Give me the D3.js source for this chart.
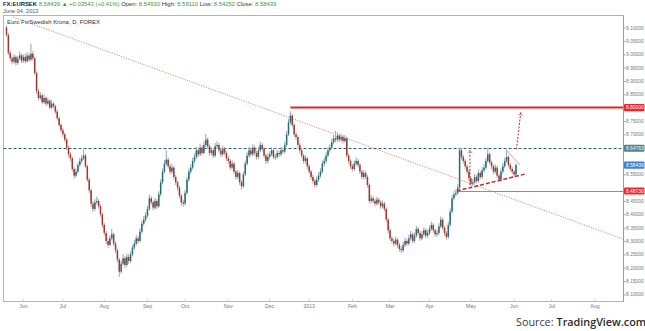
<!DOCTYPE html>
<html>
<head>
<meta charset="utf-8">
<script src="https://cdnjs.cloudflare.com/ajax/libs/d3/7.8.5/d3.min.js"></script>
<style>
  html, body { margin: 0; padding: 0; background: #fff; }
  svg { display: block; }
  text { font-family: "Liberation Sans", Arial, sans-serif; }
</style>
</head>
<body>
<svg id="chart" width="645" height="331"></svg>
<script>
// ---- EUR/SEK daily bars, 21 May 2012 – 04 Jun 2013 ----
const firstDay = "2012-05-21";
const firstOpen = 9.100;

const closes = [
  // May 2012
  9.072, 9.005, 8.985, 8.972, 8.990, 8.968, 8.984, 8.996, 8.976,
  // Jun
  8.990, 8.974, 8.995, 8.980, 9.002, 8.985, 8.930, 8.862, 8.836, 8.846, 8.820, 8.836, 8.815, 8.826, 8.800, 8.815, 8.805, 8.785, 8.760, 8.735, 8.715,
  // Jul
  8.700, 8.680, 8.650, 8.625, 8.610, 8.570, 8.545, 8.560, 8.585, 8.600, 8.610, 8.620, 8.580, 8.530, 8.490, 8.440, 8.420, 8.445, 8.450, 8.430, 8.400, 8.360,
  // Aug
  8.330, 8.300, 8.285, 8.310, 8.325, 8.290, 8.265, 8.230, 8.185, 8.215, 8.235, 8.210, 8.240, 8.225, 8.250, 8.275, 8.290, 8.310, 8.300, 8.335, 8.365, 8.380, 8.395,
  // Sep
  8.420, 8.460, 8.445, 8.425, 8.450, 8.430, 8.475, 8.520, 8.560, 8.590, 8.605, 8.580, 8.560, 8.575, 8.540, 8.520, 8.500, 8.470, 8.445, 8.440,
  // Oct
  8.480, 8.530, 8.560, 8.575, 8.600, 8.615, 8.640, 8.625, 8.650, 8.630, 8.660, 8.680, 8.655, 8.630, 8.640, 8.620, 8.655, 8.660, 8.640, 8.625, 8.645, 8.630, 8.610,
  // Nov
  8.600, 8.575, 8.590, 8.560, 8.540, 8.555, 8.520, 8.505, 8.550, 8.590, 8.620, 8.640, 8.625, 8.650, 8.630, 8.615, 8.640, 8.660, 8.645, 8.620, 8.600, 8.615,
  // Dec
  8.625, 8.640, 8.615, 8.615, 8.630, 8.625, 8.640, 8.635, 8.660, 8.700, 8.745, 8.770, 8.735, 8.700, 8.690, 8.660, 8.640, 8.620, 8.600, 8.610, 8.580,
  // Jan 2013
  8.560, 8.540, 8.525, 8.510, 8.530, 8.545, 8.560, 8.590, 8.600, 8.620, 8.640, 8.650, 8.670, 8.685, 8.680, 8.695, 8.680, 8.690, 8.675, 8.685, 8.620, 8.600, 8.580,
  // Feb
  8.570, 8.590, 8.600, 8.585, 8.560, 8.540, 8.555, 8.540, 8.510, 8.450, 8.460, 8.450, 8.440, 8.455, 8.445, 8.430, 8.440, 8.420, 8.380, 8.340,
  // Mar
  8.310, 8.300, 8.290, 8.305, 8.285, 8.270, 8.265, 8.285, 8.300, 8.290, 8.310, 8.325, 8.300, 8.320, 8.345, 8.330, 8.310, 8.325, 8.340, 8.320, 8.330,
  // Apr
  8.345, 8.360, 8.340, 8.325, 8.330, 8.355, 8.380, 8.350, 8.330, 8.315, 8.360, 8.410, 8.460, 8.475, 8.480, 8.500, 8.640, 8.615, 8.600, 8.580, 8.560, 8.535,
  // May
  8.515, 8.520, 8.540, 8.525, 8.555, 8.540, 8.565, 8.575, 8.600, 8.625, 8.595, 8.580, 8.560, 8.575, 8.545, 8.530, 8.560, 8.580, 8.600, 8.615, 8.585, 8.570, 8.560,
  // Jun
  8.549, 8.58439
];

const highs = [
  9.108, 9.080, 9.014, 8.992, 9.001, 8.996, 8.994, 9.010, 9.003,
  8.999, 9.002, 9.008, 9.003, 9.040, 9.012, 8.991, 8.936, 8.870, 8.858, 8.852, 8.849, 8.842, 8.838, 8.831, 8.829, 8.821, 8.811, 8.792, 8.766, 8.741,
  8.724, 8.706, 8.686, 8.657, 8.633, 8.616, 8.577, 8.571, 8.594, 8.611, 8.622, 8.642, 8.627, 8.586, 8.537, 8.496, 8.449, 8.456, 8.466, 8.458, 8.437, 8.406,
  8.368, 8.337, 8.309, 8.321, 8.346, 8.331, 8.298, 8.271, 8.236, 8.226, 8.249, 8.243, 8.252, 8.251, 8.262, 8.286, 8.303, 8.322, 8.318, 8.347, 8.377, 8.393, 8.408,
  8.432, 8.474, 8.468, 8.452, 8.461, 8.457, 8.486, 8.531, 8.572, 8.603, 8.640, 8.613, 8.588, 8.589, 8.582, 8.548, 8.527, 8.506, 8.476, 8.455,
  8.491, 8.541, 8.572, 8.588, 8.612, 8.628, 8.653, 8.649, 8.664, 8.658, 8.673, 8.701, 8.688, 8.662, 8.652, 8.647, 8.667, 8.674, 8.668, 8.648, 8.657, 8.653, 8.637,
  8.618, 8.607, 8.602, 8.597, 8.567, 8.566, 8.561, 8.528, 8.561, 8.601, 8.632, 8.653, 8.649, 8.663, 8.658, 8.638, 8.652, 8.672, 8.668, 8.652, 8.627, 8.627,
  8.637, 8.652, 8.647, 8.626, 8.641, 8.639, 8.652, 8.649, 8.672, 8.712, 8.757, 8.786, 8.777, 8.741, 8.709, 8.696, 8.667, 8.648, 8.626, 8.622, 8.616,
  8.587, 8.567, 8.548, 8.533, 8.542, 8.557, 8.572, 8.602, 8.613, 8.632, 8.652, 8.663, 8.683, 8.698, 8.712, 8.707, 8.703, 8.702, 8.698, 8.697, 8.691, 8.628, 8.607,
  8.588, 8.602, 8.613, 8.608, 8.592, 8.567, 8.566, 8.562, 8.547, 8.516, 8.472, 8.468, 8.458, 8.466, 8.463, 8.452, 8.452, 8.447, 8.426, 8.386,
  8.347, 8.318, 8.308, 8.317, 8.312, 8.293, 8.279, 8.297, 8.312, 8.308, 8.322, 8.337, 8.332, 8.332, 8.357, 8.353, 8.337, 8.337, 8.352, 8.347, 8.342,
  8.357, 8.372, 8.367, 8.347, 8.342, 8.367, 8.392, 8.387, 8.357, 8.337, 8.372, 8.422, 8.472, 8.488, 8.493, 8.513, 8.648, 8.646, 8.623, 8.607, 8.587, 8.567,
  8.542, 8.532, 8.552, 8.548, 8.567, 8.562, 8.577, 8.588, 8.612, 8.650, 8.632, 8.602, 8.587, 8.587, 8.582, 8.552, 8.572, 8.592, 8.612, 8.642, 8.622, 8.592, 8.577,
  8.567, 8.5911
];

const lows = [
  9.066, 8.996, 8.975, 8.962, 8.965, 8.958, 8.961, 8.978, 8.967,
  8.968, 8.966, 8.969, 8.971, 8.975, 8.976, 8.922, 8.851, 8.826, 8.829, 8.812, 8.814, 8.806, 8.808, 8.793, 8.795, 8.797, 8.776, 8.752, 8.727, 8.706,
  8.690, 8.671, 8.641, 8.615, 8.598, 8.560, 8.533, 8.538, 8.553, 8.578, 8.591, 8.603, 8.572, 8.521, 8.480, 8.428, 8.408, 8.413, 8.436, 8.421, 8.390, 8.350,
  8.320, 8.289, 8.274, 8.279, 8.302, 8.281, 8.255, 8.219, 8.165, 8.177, 8.207, 8.198, 8.203, 8.214, 8.218, 8.243, 8.266, 8.282, 8.289, 8.294, 8.328, 8.357, 8.371,
  8.388, 8.414, 8.436, 8.415, 8.418, 8.420, 8.424, 8.468, 8.512, 8.553, 8.582, 8.571, 8.549, 8.552, 8.531, 8.510, 8.489, 8.459, 8.433, 8.428,
  8.433, 8.474, 8.522, 8.551, 8.568, 8.592, 8.607, 8.615, 8.618, 8.621, 8.624, 8.652, 8.645, 8.620, 8.622, 8.611, 8.614, 8.646, 8.631, 8.614, 8.617, 8.621, 8.600,
  8.590, 8.566, 8.568, 8.551, 8.530, 8.532, 8.510, 8.494, 8.499, 8.543, 8.583, 8.612, 8.615, 8.618, 8.621, 8.605, 8.608, 8.633, 8.636, 8.611, 8.589, 8.592,
  8.606, 8.618, 8.606, 8.604, 8.608, 8.614, 8.617, 8.626, 8.628, 8.653, 8.693, 8.737, 8.726, 8.690, 8.679, 8.650, 8.630, 8.611, 8.590, 8.591, 8.570,
  8.551, 8.530, 8.515, 8.500, 8.503, 8.522, 8.537, 8.553, 8.581, 8.592, 8.613, 8.631, 8.643, 8.662, 8.670, 8.672, 8.671, 8.672, 8.666, 8.667, 8.612, 8.590, 8.570,
  8.561, 8.563, 8.582, 8.576, 8.550, 8.530, 8.532, 8.531, 8.500, 8.441, 8.442, 8.441, 8.430, 8.433, 8.436, 8.421, 8.423, 8.411, 8.370, 8.330,
  8.300, 8.290, 8.280, 8.283, 8.275, 8.260, 8.255, 8.258, 8.277, 8.281, 8.283, 8.302, 8.291, 8.293, 8.313, 8.321, 8.301, 8.303, 8.317, 8.311, 8.312,
  8.322, 8.337, 8.331, 8.315, 8.316, 8.322, 8.348, 8.341, 8.320, 8.305, 8.308, 8.353, 8.403, 8.452, 8.466, 8.472, 8.493, 8.605, 8.590, 8.570, 8.550, 8.525,
  8.497, 8.506, 8.513, 8.516, 8.518, 8.531, 8.533, 8.556, 8.568, 8.593, 8.586, 8.570, 8.550, 8.553, 8.536, 8.520, 8.523, 8.553, 8.573, 8.593, 8.576, 8.560, 8.550,
  8.538, 8.54252
];

// Axis labels
const monthStarts = ["2012-06-01","2012-07-01","2012-08-01","2012-09-01","2012-10-01","2012-11-01","2012-12-01",
                     "2013-01-01","2013-02-01","2013-03-01","2013-04-01","2013-05-01","2013-06-01","2013-07-01","2013-08-01"];
const monthLabels = ["Jun","Jul","Aug","Sep","Oct","Nov","Dec","2013","Feb","Mar","Apr","May","Jun","Jul","Aug"];
const priceTicks = [8.10, 8.15, 8.20, 8.25, 8.30, 8.35, 8.40, 8.45, 8.50, 8.55, 8.60, 8.65, 8.70, 8.75, 8.80, 8.85, 8.90, 8.95, 9.00, 9.05, 9.10];

// Drawn levels and trend lines (bar index, price)
const resistance = { from: 151, price: 8.80000 };
const pivot = { price: 8.64763 };
const support = { from: 239.5, price: 8.48730 };
const lastPrice = 8.58439;
const fallingTrend = [[3.5, 9.1397], [327.9, 8.3074]];
const risingTrend = [[239.5, 8.4873], [276.7, 8.5524]];
const triangleTop = [[266.2, 8.6384], [273.1, 8.5848]];
const arrowA = [[246.5, 8.510], [246.5, 8.641]];
const arrowB = [[271.3, 8.6437], [273.5, 8.781]];

const headerParts = [
  { t: "FX:EURSEK ", c: "#222", w: "bold" },
  { t: "8.58439 ", c: "#3a9a3a" },
  { t: "\u25B2 +0.03543 (+0.41%)  ", c: "#3a9a3a" },
  { t: "Open: ", c: "#333" }, { t: "8.54930  ", c: "#3a9a3a" },
  { t: "High: ", c: "#333" }, { t: "8.59110  ", c: "#3a9a3a" },
  { t: "Low: ", c: "#333" }, { t: "8.54252  ", c: "#3a9a3a" },
  { t: "Close: ", c: "#333" }, { t: "8.58439", c: "#3a9a3a" }
];

// ---- trading calendar (weekdays) ----
const parse = d3.utcParse("%Y-%m-%d");
const tradingDays = [];
for (let d = parse(firstDay); d <= parse("2013-08-30"); d = d3.utcDay.offset(d, 1)) {
  const wd = d.getUTCDay();
  if (wd !== 0 && wd !== 6) tradingDays.push(d);
}
const bars = closes.map((c, i) => ({
  i, date: tradingDays[i],
  open: i === 0 ? firstOpen : closes[i - 1],
  high: highs[i], low: lows[i], close: c
}));
bars[bars.length - 1].open = 8.54930;

// ---- layout ----
const plot = { left: 3.5, right: 623.5, top: 15.5, bottom: 301.5 };
const svg = d3.select("#chart");
svg.append("rect").attr("width", 645).attr("height", 331).attr("fill", "#fff");

const x = d3.scaleLinear().domain([0, 100]).range([6.5, 194.5]);
const y = d3.scaleLinear().domain([8.10, 9.10]).range([294.3, 27.6]);

svg.append("defs").append("clipPath").attr("id", "plotclip")
  .append("rect").attr("x", plot.left).attr("y", plot.top)
  .attr("width", plot.right - plot.left).attr("height", plot.bottom - plot.top);

// frame
svg.append("rect")
  .attr("x", plot.left).attr("y", plot.top)
  .attr("width", plot.right - plot.left).attr("height", plot.bottom - plot.top)
  .attr("fill", "none").attr("stroke", "#b4b4b4").attr("stroke-width", 1);

const g = svg.append("g").attr("clip-path", "url(#plotclip)");

// falling trend line (dotted)
const line = d3.line().x(d => x(d[0])).y(d => y(d[1]));
g.append("path").attr("d", line(fallingTrend))
  .attr("fill", "none").attr("stroke", "#d98a80").attr("stroke-width", 1)
  .attr("stroke-dasharray", "1.2,1.3");

// pivot level (dashed, full width)
g.append("line")
  .attr("x1", plot.left).attr("x2", plot.right)
  .attr("y1", Math.round(y(pivot.price)) + 0.5).attr("y2", Math.round(y(pivot.price)) + 0.5)
  .attr("stroke", "#2e6674").attr("stroke-width", 1).attr("stroke-dasharray", "3,2");

// candles
const upCol = "#2b6976", downCol = "#963a35";
const cg = g.append("g");
cg.selectAll("line.wick").data(bars).join("line")
  .attr("class", "wick")
  .attr("x1", d => x(d.i)).attr("x2", d => x(d.i))
  .attr("y1", d => y(d.high)).attr("y2", d => y(d.low))
  .attr("stroke", d => d.close >= d.open ? "#86aab3" : "#cf9a95")
  .attr("stroke-width", 1);
cg.selectAll("rect.body").data(bars).join("rect")
  .attr("class", "body")
  .attr("x", d => x(d.i) - 0.75).attr("width", 1.5)
  .attr("y", d => y(Math.max(d.open, d.close)))
  .attr("height", d => Math.max(0.8, Math.abs(y(d.open) - y(d.close))))
  .attr("fill", d => d.close >= d.open ? upCol : downCol);

// resistance level
g.append("line")
  .attr("x1", x(resistance.from)).attr("x2", plot.right)
  .attr("y1", y(resistance.price)).attr("y2", y(resistance.price))
  .attr("stroke", "#e0262b").attr("stroke-width", 2);

// support level
g.append("line")
  .attr("x1", x(support.from)).attr("x2", plot.right)
  .attr("y1", Math.round(y(support.price)) + 0.5).attr("y2", Math.round(y(support.price)) + 0.5)
  .attr("stroke", "#e36b6b").attr("stroke-width", 1);

// rising trend (dashed)
g.append("path").attr("d", line(risingTrend))
  .attr("fill", "none").attr("stroke", "#b3312b").attr("stroke-width", 1.5)
  .attr("stroke-dasharray", "4,2");

// triangle upper edge
g.append("path").attr("d", line(triangleTop))
  .attr("fill", "none").attr("stroke", "#dc8a84").attr("stroke-width", 0.8);

// projection arrows
function arrow(pts) {
  const x0 = x(pts[0][0]), y0 = y(pts[0][1]), x1 = x(pts[1][0]), y1 = y(pts[1][1]);
  const ang = Math.atan2(y1 - y0, x1 - x0);
  const h = 3.2, spread = 0.6;
  g.append("line").attr("x1", x0).attr("y1", y0).attr("x2", x1).attr("y2", y1)
    .attr("stroke", "#b3312b").attr("stroke-width", 1).attr("stroke-dasharray", "2,1.5");
  const p = d3.path();
  p.moveTo(x1 - h * Math.cos(ang - spread), y1 - h * Math.sin(ang - spread));
  p.lineTo(x1, y1);
  p.lineTo(x1 - h * Math.cos(ang + spread), y1 - h * Math.sin(ang + spread));
  g.append("path").attr("d", p.toString()).attr("fill", "none")
    .attr("stroke", "#b3312b").attr("stroke-width", 0.9).attr("stroke-dasharray", "1.5,1");
}
arrow(arrowA);
arrow(arrowB);

// ---- right price axis ----
const tagPrices = [resistance.price, pivot.price, lastPrice, support.price];
const freeTicks = priceTicks.filter(v => tagPrices.every(p => Math.abs(y(v) - y(p)) > 5.5));
const yAxis = d3.axisRight(y).tickValues(freeTicks).tickSize(2).tickFormat(d => d.toFixed(5));
const ya = svg.append("g").attr("transform", `translate(${plot.right},0)`).call(yAxis);
ya.select(".domain").attr("stroke", "#9a9a9a").attr("d", `M0,${plot.top}V${plot.bottom}`);
ya.selectAll(".tick line").attr("stroke", "#9a9a9a");
ya.selectAll(".tick text").attr("x", 2.6).attr("fill", "#7a7a7a")
  .style("font-size", "4.9px").style("font-family", "Liberation Sans, Arial, sans-serif");

// price tags
function tag(price, fill, label) {
  const yy = y(price);
  const t = svg.append("g").attr("transform", `translate(${plot.right + 0.5},${yy})`);
  t.append("rect").attr("x", 0).attr("y", -3.6).attr("width", 20.5).attr("height", 7.2)
    .attr("rx", 1).attr("fill", fill);
  t.append("text").attr("x", 2).attr("y", 1.8).attr("fill", "#fff")
    .style("font-size", "4.9px").text(label);
}
tag(resistance.price, "#e8282d", resistance.price.toFixed(5));
tag(pivot.price, "#4f8391", pivot.price.toFixed(5));
tag(lastPrice, "#3b82d6", lastPrice.toFixed(5));
tag(support.price, "#e8282d", support.price.toFixed(5));

// ---- bottom time axis ----
const monthIdx = monthStarts.map(s => d3.bisectLeft(tradingDays, parse(s)));
const xa = svg.append("g");
xa.selectAll("line").data(monthIdx).join("line")
  .attr("x1", d => x(d)).attr("x2", d => x(d))
  .attr("y1", plot.bottom - 3).attr("y2", plot.bottom)
  .attr("stroke", "#d8d8d8");
xa.selectAll("text").data(monthIdx).join("text")
  .attr("x", d => x(d)).attr("y", 307.5)
  .attr("text-anchor", "middle").attr("fill", "#7a7a7a")
  .style("font-size", "5.2px")
  .text((d, k) => monthLabels[k]);

// ---- header ----
const hdr = svg.append("text").attr("x", 3).attr("y", 6).style("font-size", "5.9px");
headerParts.forEach(p => hdr.append("tspan").attr("fill", p.c)
  .attr("font-weight", p.w || "normal").text(p.t));
svg.append("text").attr("x", 3).attr("y", 12.5).attr("fill", "#555")
  .style("font-size", "5.6px").text("June 04, 2013");
svg.append("text").attr("x", 7).attr("y", 23.5).attr("fill", "#333")
  .style("font-size", "5.9px").text("Euro Fx/Swedish Krona, D, FOREX");

// ---- source credit ----
const srcFont = "Open Sans, sans-serif";
const s1 = svg.append("text").attr("x", 516).attr("y", 326)
  .attr("fill", "#3a3a3a").style("font-size", "10.8px").style("font-family", srcFont)
  .text("Source:");
const s1w = s1.node().getComputedTextLength();
svg.append("text").attr("x", 516 + s1w + 3).attr("y", 326)
  .attr("fill", "#2a2a2a").attr("font-weight", "600")
  .style("font-size", "10.8px").style("font-family", srcFont)
  .text("TradingView.com");
</script>
</body>
</html>
